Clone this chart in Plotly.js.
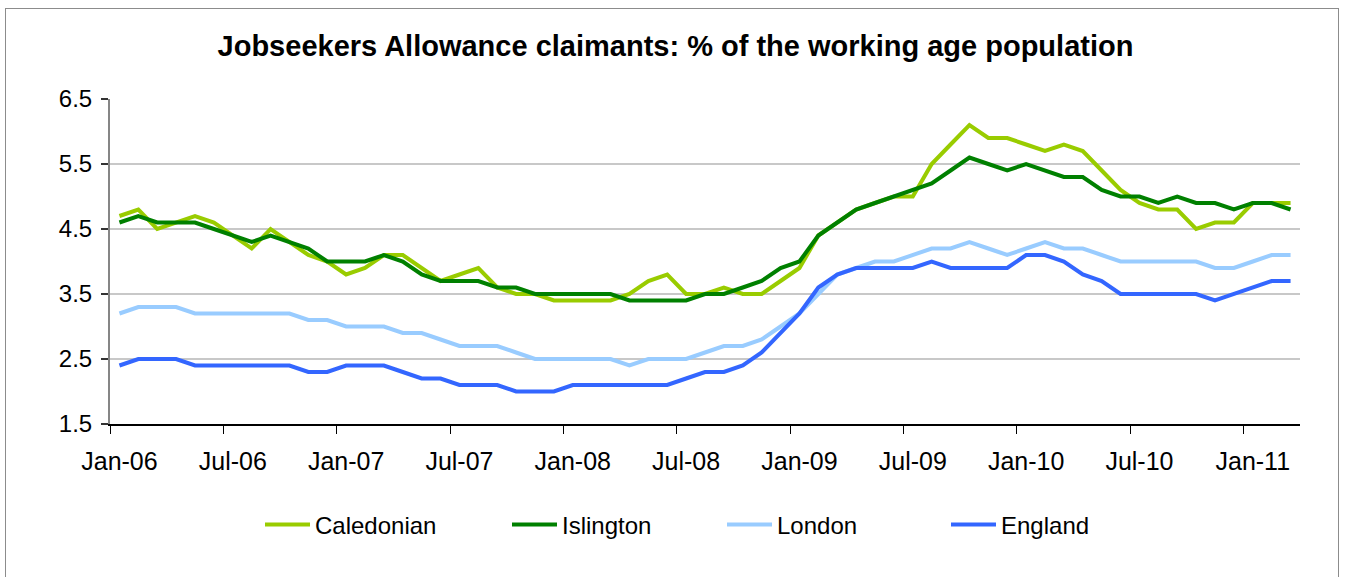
<!DOCTYPE html>
<html>
<head>
<meta charset="utf-8">
<script src="https://cdn.plot.ly/plotly-3.0.1.min.js"></script>
<style>
  html, body { margin: 0; padding: 0; background: #fff; }
  #frame { position: absolute; left: 5px; top: 8px; width: 1334px; height: 600px; border: 1px solid #8c8c8c; box-sizing: border-box; pointer-events: none; z-index: 5; }
  #chart { position: absolute; left: 0; top: 0; width: 1351px; height: 577px; }
</style>
</head>
<body>
<div id="chart"></div>
<div id="frame"></div>
<script>
// Month labels Jan-06 .. Mar-11
const monthNames = ['Jan','Feb','Mar','Apr','May','Jun','Jul','Aug','Sep','Oct','Nov','Dec'];
const months = [];
for (let i = 0; i < 63; i++) {
  const yr = 6 + Math.floor(i / 12);
  months.push(monthNames[i % 12] + '-' + (yr < 10 ? '0' + yr : String(yr)));
}

const caledonian = [
  4.7, 4.8, 4.5, 4.6, 4.7, 4.6, 4.4, 4.2, 4.5, 4.3, 4.1, 4.0, 3.8,
  3.9, 4.1, 4.1, 3.9, 3.7, 3.8, 3.9, 3.6, 3.5, 3.5, 3.4, 3.4,
  3.4, 3.4, 3.5, 3.7, 3.8, 3.5, 3.5, 3.6, 3.5, 3.5, 3.7, 3.9, 4.4,
  4.6, 4.8, 4.9, 5.0, 5.0, 5.5, 5.8, 6.1, 5.9, 5.9, 5.8,
  5.7, 5.8, 5.7, 5.4, 5.1, 4.9, 4.8, 4.8, 4.5, 4.6, 4.6, 4.9, 4.9, 4.9
];
const islington = [
  4.6, 4.7, 4.6, 4.6, 4.6, 4.5, 4.4, 4.3, 4.4, 4.3, 4.2, 4.0, 4.0,
  4.0, 4.1, 4.0, 3.8, 3.7, 3.7, 3.7, 3.6, 3.6, 3.5, 3.5, 3.5,
  3.5, 3.5, 3.4, 3.4, 3.4, 3.4, 3.5, 3.5, 3.6, 3.7, 3.9, 4.0, 4.4,
  4.6, 4.8, 4.9, 5.0, 5.1, 5.2, 5.4, 5.6, 5.5, 5.4, 5.5,
  5.4, 5.3, 5.3, 5.1, 5.0, 5.0, 4.9, 5.0, 4.9, 4.9, 4.8, 4.9, 4.9, 4.8
];
const london = [
  3.2, 3.3, 3.3, 3.3, 3.2, 3.2, 3.2, 3.2, 3.2, 3.2, 3.1, 3.1, 3.0,
  3.0, 3.0, 2.9, 2.9, 2.8, 2.7, 2.7, 2.7, 2.6, 2.5, 2.5, 2.5,
  2.5, 2.5, 2.4, 2.5, 2.5, 2.5, 2.6, 2.7, 2.7, 2.8, 3.0, 3.2, 3.5,
  3.8, 3.9, 4.0, 4.0, 4.1, 4.2, 4.2, 4.3, 4.2, 4.1, 4.2,
  4.3, 4.2, 4.2, 4.1, 4.0, 4.0, 4.0, 4.0, 4.0, 3.9, 3.9, 4.0, 4.1, 4.1
];
const england = [
  2.4, 2.5, 2.5, 2.5, 2.4, 2.4, 2.4, 2.4, 2.4, 2.4, 2.3, 2.3, 2.4,
  2.4, 2.4, 2.3, 2.2, 2.2, 2.1, 2.1, 2.1, 2.0, 2.0, 2.0, 2.1,
  2.1, 2.1, 2.1, 2.1, 2.1, 2.2, 2.3, 2.3, 2.4, 2.6, 2.9, 3.2, 3.6,
  3.8, 3.9, 3.9, 3.9, 3.9, 4.0, 3.9, 3.9, 3.9, 3.9, 4.1,
  4.1, 4.0, 3.8, 3.7, 3.5, 3.5, 3.5, 3.5, 3.5, 3.4, 3.5, 3.6, 3.7, 3.7
];

const seriesNames = ['Caledonian', 'Islington', 'London', 'England'];
const seriesColors = ['#99CC00', '#008000', '#99CCFF', '#3366FF'];
const seriesData = [caledonian, islington, london, england];
const legendIds = ['legend', 'legend2', 'legend3', 'legend4'];

const FONT = 'Liberation Sans, Arial, sans-serif';

const traces = seriesData.map((vals, k) => ({
  type: 'scatter',
  mode: 'lines',
  name: seriesNames[k],
  x: months,
  y: vals,
  line: { color: seriesColors[k], width: 4 },
  legend: legendIds[k],
  hoverinfo: 'skip'
}));

// plot area: left 110px, width 1190px
const PL = 110, PW = 1190;
const legendLeftPx = [260, 507, 722, 946];
const legendY = (424 - 525) / 325;

function legendCfg(px) {
  return {
    orientation: 'h',
    x: (px - PL) / PW, xanchor: 'left',
    y: legendY, yanchor: 'middle',
    font: { family: FONT, size: 24, color: '#000' },
    bgcolor: 'rgba(0,0,0,0)',
    itemwidth: 45
  };
}

const layout = {
  width: 1351,
  height: 577,
  margin: { l: 110, r: 51, t: 99, b: 153 },
  paper_bgcolor: '#ffffff',
  plot_bgcolor: '#ffffff',
  font: { family: FONT, size: 24, color: '#000' },
  title: {
    text: '<b>Jobseekers Allowance claimants: % of the working age population</b>',
    font: { family: FONT, size: 29, color: '#000' },
    x: 0.5, xref: 'container', xanchor: 'center',
    y: 1 - 46 / 577, yref: 'container', yanchor: 'middle'
  },
  xaxis: {
    type: 'category',
    categoryorder: 'array',
    categoryarray: months,
    range: [-0.5, 62.5],
    tickmode: 'linear',
    tick0: 0,
    dtick: 6,
    tickson: 'boundaries',
    tickangle: 0,
    ticks: 'outside',
    ticklen: 8,
    tickcolor: '#000',
    tickwidth: 1,
    showline: true,
    linecolor: '#000',
    linewidth: 1.5,
    showgrid: false,
    zeroline: false,
    ticklabelstandoff: 14,
    tickfont: { family: FONT, size: 25, color: '#000' },
    fixedrange: true
  },
  yaxis: {
    range: [1.5, 6.5],
    tick0: 1.5,
    dtick: 1,
    tickformat: '.1f',
    ticks: 'outside',
    ticklen: 7,
    tickcolor: '#333',
    tickwidth: 1.5,
    showline: true,
    linecolor: '#868686',
    linewidth: 2,
    showgrid: true,
    gridcolor: '#c8c8c8',
    gridwidth: 1.5,
    zeroline: false,
    ticklabelstandoff: 4,
    tickfont: { family: FONT, size: 24, color: '#000' },
    fixedrange: true
  },
  showlegend: true,
  legend: legendCfg(legendLeftPx[0]),
  legend2: legendCfg(legendLeftPx[1]),
  legend3: legendCfg(legendLeftPx[2]),
  legend4: legendCfg(legendLeftPx[3])
};

Plotly.newPlot('chart', traces, layout, { displayModeBar: false, staticPlot: true });
</script>
</body>
</html>
